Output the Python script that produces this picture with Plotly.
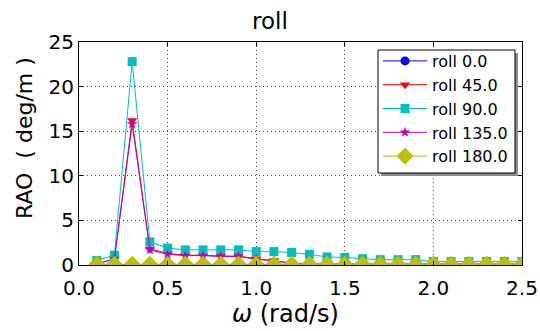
import plotly.graph_objects as go

omega = [0.1, 0.2, 0.3, 0.4, 0.5, 0.6, 0.7, 0.8, 0.9, 1.0, 1.1, 1.2, 1.3,
         1.4, 1.5, 1.6, 1.7, 1.8, 1.9, 2.0, 2.1, 2.2, 2.3, 2.4, 2.5]
roll_0 = [0.02] * 25
roll_45 = [0.1, 0.7, 16.2, 1.8, 1.3, 1.1, 1.1, 1.0, 1.0, 0.7, 0.5, 0.2, 0.1,
           0.1, 0.1, 0.1, 0.1, 0.1, 0.1, 0.1, 0.1, 0.1, 0.1, 0.1, 0.1]
roll_90 = [0.5, 1.1, 22.8, 2.6, 1.9, 1.7, 1.7, 1.7, 1.7, 1.5, 1.5, 1.4, 1.2,
           0.9, 0.85, 0.7, 0.6, 0.6, 0.6, 0.4, 0.4, 0.4, 0.4, 0.4, 0.4]
roll_135 = [0.1, 0.7, 15.8, 1.7, 1.2, 1.05, 1.05, 0.95, 0.95, 0.65, 0.45, 0.2, 0.1,
            0.1, 0.1, 0.1, 0.1, 0.1, 0.1, 0.1, 0.1, 0.1, 0.1, 0.1, 0.1]
roll_180 = [0.08] * 25

series = [
    ("roll 0.0", roll_0, "#0000ff", "circle", 9),
    ("roll 45.0", roll_45, "#ff0000", "triangle-down", 9),
    ("roll 90.0", roll_90, "#00bfbf", "square", 9),
    ("roll 135.0", roll_135, "#bf00bf", "star", 8),
    ("roll 180.0", roll_180, "#bfbf00", "diamond", 13),
]

fig = go.Figure()
for name, vals, col, sym, sz in series:
    fig.add_trace(go.Scatter(
        x=omega, y=vals, name=name, mode="lines+markers", legendgroup=name,
        line=dict(color=col, width=1),
        marker=dict(symbol=sym, size=sz, color=col, line=dict(width=0)),
        cliponaxis=True,
    ))

font = "DejaVu Sans, sans-serif"
L, R, T, B = 79, 18, 42, 66
pw, ph = 540 - L - R, 331 - T - B


def px_x(p):
    return (p - L) / pw


def px_y(p):
    return (331 - B - p) / ph


# legend shadow and frame
fig.add_shape(type="rect", xref="paper", yref="paper",
              x0=px_x(381), x1=px_x(518), y0=px_y(176), y1=px_y(53),
              fillcolor="#8c8c8c", line=dict(width=0), layer="above")
fig.add_shape(type="rect", xref="paper", yref="paper",
              x0=px_x(378), x1=px_x(515), y0=px_y(173), y1=px_y(50),
              fillcolor="white", line=dict(width=1, color="black"), layer="above")

fig.add_annotation(text="RAO  ( deg/m )", xref="paper", yref="paper",
                   x=px_x(24), y=px_y(138), textangle=-90, showarrow=False,
                   font=dict(size=22, family=font, color="black"),
                   xanchor="center", yanchor="middle")
fig.add_annotation(text="<i>ω</i> (rad/s)", xref="paper", yref="paper",
                   x=px_x(285), y=px_y(314), showarrow=False,
                   font=dict(size=24, family=font, color="black"),
                   xanchor="center", yanchor="middle")

fig.update_layout(
    width=540, height=331,
    margin=dict(l=L, r=R, t=T, b=B, autoexpand=False),
    paper_bgcolor="white", plot_bgcolor="white",
    font=dict(family=font, size=20, color="black"),
    title=dict(text="roll", x=0.5, xanchor="center", yref="container",
               y=1 - 21 / 331, yanchor="middle", font=dict(size=23, family=font)),
    showlegend=True,
    legend=dict(x=px_x(378), y=px_y(44), xanchor="left", yanchor="top",
                bgcolor="rgba(0,0,0,0)", borderwidth=0,
                font=dict(size=16, family=font), tracegroupgap=0,
                itemwidth=44),
    xaxis=dict(range=[0, 2.5], tickvals=[0, 0.5, 1.0, 1.5, 2.0, 2.5],
               ticktext=["0.0", "0.5", "1.0", "1.5", "2.0", "2.5"],
               ticks="inside", ticklen=4, tickcolor="black", mirror="ticks",
               showline=True, linecolor="black", linewidth=1, automargin=False,
               showgrid=True, gridcolor="#444", griddash="1px,3px", gridwidth=1,
               zeroline=False, tickfont=dict(size=20), ticklabelstandoff=5),
    yaxis=dict(range=[0, 25], tickvals=[0, 5, 10, 15, 20, 25],
               ticks="inside", ticklen=4, tickcolor="black", mirror="ticks",
               showline=True, linecolor="black", linewidth=1, automargin=False,
               showgrid=True, gridcolor="#444", griddash="1px,3px", gridwidth=1,
               zeroline=False, tickfont=dict(size=20)),
)
fig.write_html("out.html")
